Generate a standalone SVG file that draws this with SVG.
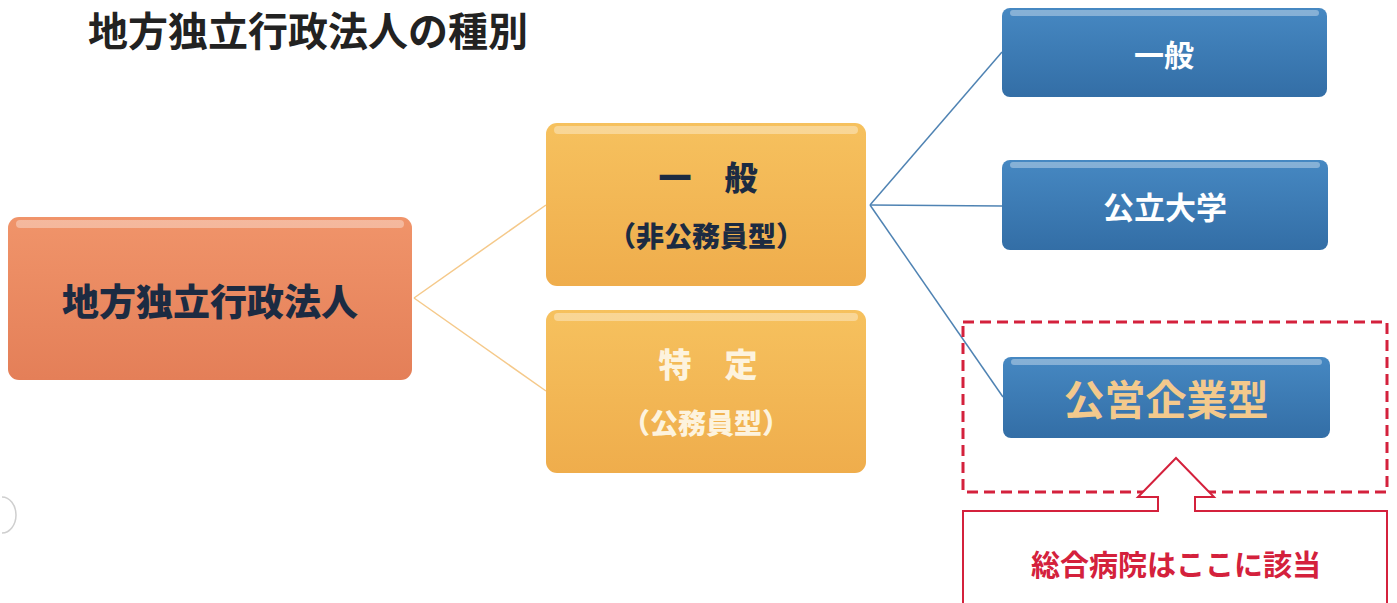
<svg xmlns="http://www.w3.org/2000/svg" width="1397" height="603" viewBox="0 0 1397 603">
<style>
text{font-family:"Noto Sans CJK JP","Noto Sans CJK SC",sans-serif;font-weight:700;text-anchor:middle;dominant-baseline:central}
.heavy{font-weight:900}
.hl{fill:#ffffff;opacity:0.35}
.conY{stroke:#f5c98a;stroke-width:1.5;fill:none}
.conB{stroke:#4f83b3;stroke-width:1.5;fill:none}
</style>
<defs>
<linearGradient id="gO" x1="0" y1="0" x2="0" y2="1"><stop offset="0" stop-color="#f0946a"/><stop offset="1" stop-color="#e47f58"/></linearGradient>
<linearGradient id="gY" x1="0" y1="0" x2="0" y2="1"><stop offset="0" stop-color="#f6c15e"/><stop offset="1" stop-color="#efad4c"/></linearGradient>
<linearGradient id="gB" x1="0" y1="0" x2="0" y2="1"><stop offset="0" stop-color="#4688c2"/><stop offset="1" stop-color="#336ea6"/></linearGradient>
</defs>
<rect width="1397" height="603" fill="#ffffff"/>
<path d="M2,497 A14,18 0 0 1 2,533" fill="none" stroke="#cfcfcf" stroke-width="1.5"/>
<text id="title" x="308" y="29" font-size="40" fill="#222222">地方独立行政法人の種別</text>
<g id="connectors">
<path class="conY" d="M414,298 L546,205"/>
<path class="conY" d="M414,298 L546,391"/>
<path class="conB" d="M870,205 L1002,52"/>
<path class="conB" d="M870,205 L1002,206"/>
<path class="conB" d="M870,205 L1003,397"/>
</g>
<g id="node-root">
<rect x="8" y="217" width="404" height="163" rx="11" fill="url(#gO)"/>
<rect x="16" y="220" width="388" height="8" rx="4" class="hl"/>
<text class="heavy" x="210" y="300" font-size="37" fill="#1c2b42">地方独立行政法人</text>
</g>
<g id="node-general">
<rect x="546" y="123" width="320" height="163" rx="11" fill="url(#gY)"/>
<rect x="554" y="126" width="304" height="8" rx="4" class="hl"/>
<text class="heavy" x="708" y="176" font-size="33" fill="#1c2b42">一　般</text>
<text class="heavy" x="706" y="235" font-size="28" fill="#1c2b42">（非公務員型）</text>
</g>
<g id="node-specific">
<rect x="546" y="310" width="320" height="163" rx="11" fill="url(#gY)"/>
<rect x="554" y="313" width="304" height="8" rx="4" class="hl"/>
<text class="heavy" x="708" y="363" font-size="33" fill="#fdf3de">特　定</text>
<text class="heavy" x="706" y="422" font-size="28" fill="#fdf3de">（公務員型）</text>
</g>
<g id="node-b-general">
<rect x="1002" y="8" width="325" height="89" rx="8" fill="url(#gB)"/>
<rect x="1010" y="10" width="309" height="6" rx="3" class="hl"/>
<text x="1164" y="53" font-size="30" fill="#ffffff">一般</text>
</g>
<g id="node-b-univ">
<rect x="1002" y="160" width="326" height="90" rx="8" fill="url(#gB)"/>
<rect x="1010" y="162" width="310" height="6" rx="3" class="hl"/>
<text x="1165" y="205" font-size="31" fill="#ffffff">公立大学</text>
</g>
<g id="node-dashed">
<rect x="963" y="322" width="424" height="170" fill="none" stroke="#d4213c" stroke-width="3" stroke-dasharray="11,6"/>
</g>
<g id="node-b-public">
<rect x="1003" y="357" width="327" height="81" rx="8" fill="url(#gB)"/>
<rect x="1011" y="359" width="311" height="6" rx="3" class="hl"/>
<text x="1166" y="397" font-size="41" fill="#f3c98c">公営企業型</text>
</g>
<g id="node-note">
<path d="M963,610 L963,511 L1158,511 L1158,497 L1138,497 L1176,458 L1214,497 L1195,497 L1195,511 L1387,511 L1387,610" fill="#ffffff" stroke="#d4213c" stroke-width="2"/>
<text x="1176" y="563" font-size="29" fill="#d4213c">総合病院はここに該当</text>
</g>
</svg>
